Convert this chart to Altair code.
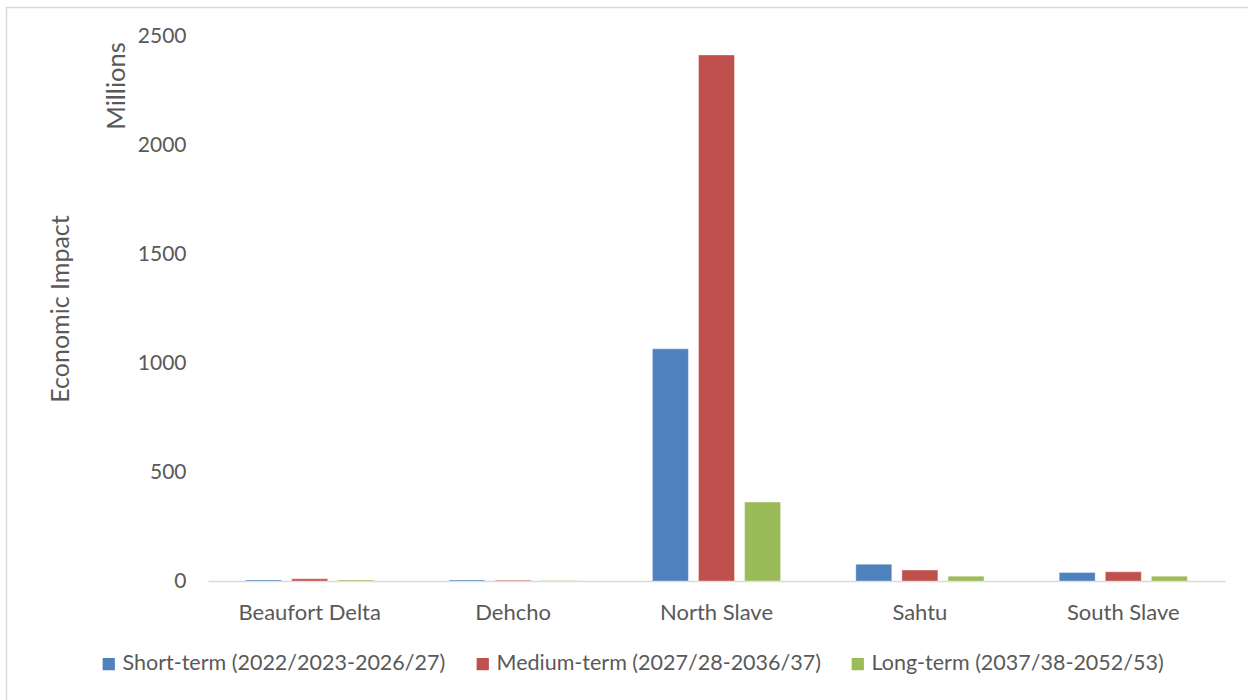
import altair as alt
import pandas as pd

# Economic impact by region and period (millions)
regions = ["Beaufort Delta", "Dehcho", "North Slave", "Sahtu", "South Slave"]
periods = [
    "Short-term (2022/2023-2026/27)",
    "Medium-term (2027/28-2036/37)",
    "Long-term (2037/38-2052/53)",
]
short_term = [5, 5, 1065, 77, 39]
medium_term = [10, 4, 2413, 50, 42]
long_term = [5, 2, 362, 22, 22]
colors = ["#4F81BD", "#C0504D", "#9BBB59"]
y_ticks = [0, 500, 1000, 1500, 2000, 2500]

rows = []
for period, values in zip(periods, [short_term, medium_term, long_term]):
    for region, v in zip(regions, values):
        rows.append({"Region": region, "Period": period, "Value": v})
df = pd.DataFrame(rows)

FONT = "Lato"
GREY = "#595959"
W, H = 1017, 545

bars = alt.Chart(df).mark_bar(strokeWidth=1, strokeOpacity=0.35, stroke="white").encode(
    x=alt.X(
        "Region:N",
        sort=regions,
        scale=alt.Scale(paddingInner=0.37, paddingOuter=0.185),
        axis=alt.Axis(
            title=None,
            labelAngle=0,
            labelFontSize=22,
            labelFont=FONT,
            labelColor=GREY,
            labelPadding=21,
            ticks=False,
            domainColor="#d9d9d9",
            domainWidth=1.5,
        ),
    ),
    xOffset=alt.XOffset(
        "Period:N",
        sort=periods,
        scale=alt.Scale(paddingInner=0.22, paddingOuter=0),
    ),
    y=alt.Y(
        "Value:Q",
        scale=alt.Scale(domain=[0, 2500], nice=False),
        axis=alt.Axis(
            values=y_ticks,
            format="d",
            title="Economic Impact",
            titleFont=FONT,
            titleFontSize=25,
            titleFontWeight="normal",
            titleColor=GREY,
            titleAngle=270,
            titleX=-148,
            titleY=H / 2,
            titleAlign="center",
            titleBaseline="middle",
            labelFontSize=21,
            labelFont=FONT,
            labelColor=GREY,
            labelPadding=22,
            ticks=False,
            domain=False,
            grid=False,
        ),
    ),
    color=alt.Color(
        "Period:N",
        sort=periods,
        scale=alt.Scale(domain=periods, range=colors),
        legend=alt.Legend(
            title=None,
            orient="none",
            direction="horizontal",
            legendX=-110,
            legendY=617,
            symbolType="square",
            symbolSize=150,
            symbolStrokeWidth=0,
            labelFont=FONT,
            labelFontSize=21.5,
            labelColor=GREY,
            labelLimit=0,
            labelOffset=3,
            columnPadding=26,
        ),
    ),
)

units = alt.Chart(pd.DataFrame({"t": ["Millions"]})).mark_text(
    angle=270, align="center", baseline="middle", font=FONT, fontSize=25.5, color=GREY
).encode(x=alt.value(-91), y=alt.value(50), text="t:N")

frame = alt.Chart(pd.DataFrame({"k": [0]})).mark_rect(
    fill=None, stroke="#d9d9d9", strokeWidth=1.5, clip=False
).encode(
    x=alt.value(-201.5), x2=alt.value(1100), y=alt.value(-28.5), y2=alt.value(700)
)

chart = (
    alt.layer(frame, bars, units)
    .properties(
        width=W,
        height=H,
        background="white",
        autosize=alt.AutoSizeParams(type="none"),
        padding={"left": 208, "top": 36, "right": 23, "bottom": 119},
    )
    .configure_view(stroke=None, strokeWidth=0)
)

chart.save("out.html", embed_options={"renderer": "svg", "actions": False})
